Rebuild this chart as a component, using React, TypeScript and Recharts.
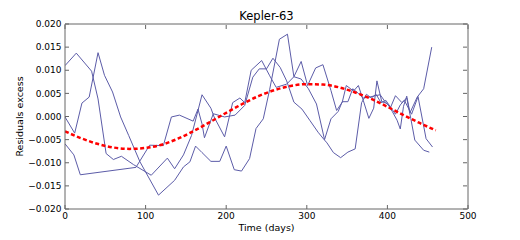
import { LineChart, Line, XAxis, YAxis } from 'recharts';

// three passes of residuals, plus the fitted trend
const timeA = [0, 14, 33, 41, 51, 60, 70, 85, 107, 127, 136, 147, 157, 165, 170, 181, 185, 198, 208, 217, 223, 231, 244, 254, 262, 275, 284, 293, 301, 311, 320, 330, 337, 344, 349, 358, 364, 370, 377, 383, 387, 393, 400, 406, 412, 416, 420, 424, 428, 437, 445, 455];
const residA = [0.011, 0.0137, 0.0098, 0.0038, -0.008, -0.0093, -0.0086, -0.0104, -0.0127, -0.009, -0.0113, -0.0083, -0.0041, 0.0013, 0.0047, 0.0018, -0.0001, -0.0044, 0.003, 0.004, 0.003, 0.01, 0.0121, 0.0088, 0.0063, 0.007, 0.0086, 0.0119, 0.0067, 0.0105, 0.0112, 0.0056, 0.0013, 0.0031, 0.0067, 0.0055, 0.0067, 0.0035, -0.0004, 0.0018, 0.0077, 0.0032, 0.0028, 0.0011, -0.0008, -0.0027, 0.0022, 0.0044, 0.0008, 0.0042, 0.006, 0.015];

const timeB = [0, 12, 21, 30, 41, 49, 59, 69, 79, 93, 116, 136, 147, 155, 162, 170, 181, 192, 200, 210, 219, 229, 237, 246, 254, 266, 276, 284, 293, 302, 312, 322, 330, 339, 344, 351, 357, 364, 370, 378, 385, 391, 398, 404, 410, 418, 424, 429, 434, 445, 452];
const residB = [-0.0001, -0.0036, 0.0029, 0.0042, 0.0138, 0.0089, 0.0053, -0.0001, -0.0041, -0.0098, -0.017, -0.0138, -0.0109, -0.0098, -0.0064, -0.0078, -0.0097, -0.0097, -0.0064, -0.0115, -0.0118, -0.0091, -0.0026, -0.0005, 0.0059, 0.0167, 0.0178, 0.0086, 0.0081, 0.006, 0.0027, -0.005, -0.0005, 0.0011, 0.0032, 0.0032, 0.006, 0.005, 0.004, 0.0042, 0.0045, 0.0047, 0.003, 0.002, 0.0045, 0.003, 0.004, -0.0004, -0.0051, -0.0073, -0.0077];

const timeC = [0, 11, 19, 88, 105, 122, 132, 142, 159, 165, 170, 173, 184, 198, 211, 223, 233, 241, 250, 258, 267, 275, 284, 294, 304, 314, 321, 325, 333, 342, 351, 360, 368, 374, 380, 386, 392, 398, 404, 410, 416, 421, 430, 438, 448, 456];
const residC = [-0.0059, -0.0083, -0.0126, -0.011, -0.0062, -0.0063, -0.0001, 0.0003, -0.001, 0.0016, -0.0016, -0.0046, 0.0006, -0.0001, 0.0003, 0.0024, 0.0085, 0.0103, 0.0103, 0.0126, 0.0106, 0.0077, 0.0031, 0.0016, -0.0009, -0.0034, -0.0049, -0.0057, -0.0078, -0.0089, -0.0077, -0.007, 0.003, 0.0048, 0.004, 0.0048, 0.003, 0.0035, 0.002, 0.0005, 0.0025, 0.0035, 0.0005, 0.0043, -0.0048, -0.0066];

const fitTime = [0, 20, 40, 60, 80, 100, 120, 140, 160, 180, 200, 220, 240, 260, 280, 300, 320, 340, 360, 380, 400, 420, 440, 460];
const fitResid = [-0.0032, -0.0047, -0.0059, -0.0067, -0.007, -0.0068, -0.0061, -0.0048, -0.0031, -0.0012, 0.0008, 0.0027, 0.0044, 0.0057, 0.0066, 0.007, 0.0069, 0.0063, 0.0052, 0.0038, 0.0021, 0.0003, -0.0014, -0.003];

const xTicks = [0, 100, 200, 300, 400, 500];
const yTicks = [-0.02, -0.015, -0.01, -0.005, 0, 0.005, 0.01, 0.015, 0.02];

const pairs = (t: number[], v: number[]) => t.map((x, i) => ({ t: x, v: v[i] }));
const passA = pairs(timeA, residA);
const passB = pairs(timeB, residB);
const passC = pairs(timeC, residC);
const fit = pairs(fitTime, fitResid);

const FONT = '"DejaVu Sans", sans-serif';
const FRAME = '#666';
const BLUE = '#5c5ca8';
const TICK = 4;

const fmtY = (v: number) => v.toFixed(3).replace('-', '\u2212');

const BottomTick = (p: any) => (
  <g>
    <line x1={p.x} x2={p.x} y1={p.y} y2={p.y - TICK} stroke={FRAME} />
    <text x={p.x} y={p.y + 9.5} textAnchor="middle" fontSize={9} fontFamily={FONT} fill="#000">
      {p.payload.value}
    </text>
  </g>
);
// the mirrored axes are 1px wide, so their ticks start 1px off the frame
const TopTick = (p: any) => <line x1={p.x} x2={p.x} y1={p.y + 1} y2={p.y + 1 + TICK} stroke={FRAME} />;
const LeftTick = (p: any) => (
  <g>
    <line x1={p.x} x2={p.x + TICK} y1={p.y} y2={p.y} stroke={FRAME} />
    <text x={p.x - 3.5} y={p.y + 3.2} textAnchor="end" fontSize={9} fontFamily={FONT} fill="#000">
      {fmtY(p.payload.value)}
    </text>
  </g>
);
const RightTick = (p: any) => <line x1={p.x - 1} x2={p.x - 1 - TICK} y1={p.y} y2={p.y} stroke={FRAME} />;

export default function App() {
  return (
    <div style={{ position: 'absolute', left: 0, top: 0, width: 520, height: 240, background: '#fff' }}>
      <LineChart width={520} height={240} margin={{ top: 23, right: 51, bottom: 11, left: 25 }}>
        <XAxis xAxisId="b" dataKey="t" type="number" domain={[0, 500]} ticks={xTicks} height={20}
          axisLine={{ stroke: FRAME }} tickLine={false} tickSize={0} tickMargin={0} tick={BottomTick} allowDataOverflow />
        <XAxis xAxisId="t" orientation="top" dataKey="t" type="number" domain={[0, 500]} ticks={xTicks} height={1}
          axisLine={{ stroke: FRAME }} tickLine={false} tickSize={0} tickMargin={0} tick={TopTick} allowDataOverflow />
        <YAxis yAxisId="l" type="number" domain={[-0.02, 0.02]} ticks={yTicks} width={40}
          axisLine={{ stroke: FRAME }} tickLine={false} tickSize={0} tickMargin={0} tick={LeftTick} allowDataOverflow />
        <YAxis yAxisId="r" orientation="right" type="number" domain={[-0.02, 0.02]} ticks={yTicks} width={1}
          axisLine={{ stroke: FRAME }} tickLine={false} tickSize={0} tickMargin={0} tick={RightTick} allowDataOverflow />
        {/* invisible copy of the trend, only so the mirrored top/right axes get drawn */}
        <Line xAxisId="t" yAxisId="r" data={fit} dataKey="v" stroke="none" strokeOpacity={0}
          dot={false} activeDot={false} isAnimationActive={false} />
        {[passA, passB, passC].map((d, i) => (
          <Line key={i} xAxisId="b" yAxisId="l" data={d} dataKey="v" type="linear" stroke={BLUE}
            strokeWidth={1} dot={false} isAnimationActive={false} />
        ))}
        <Line xAxisId="b" yAxisId="l" data={fit} dataKey="v" type="monotone" stroke="#ff0000"
          strokeWidth={2.5} strokeDasharray="4 2.5" dot={false} isAnimationActive={false} />
      </LineChart>
      <svg width={520} height={240} style={{ position: 'absolute', left: 0, top: 0, pointerEvents: 'none' }}>
        <text x={266.5} y={20} textAnchor="middle" fontSize={11.5} fontFamily={FONT}>Kepler-63</text>
        <text x={266.5} y={231} textAnchor="middle" fontSize={9.5} fontFamily={FONT}>Time (days)</text>
        <text transform="translate(23,116.5) rotate(-90)" textAnchor="middle" fontSize={9.5} fontFamily={FONT}>
          Residuals excess
        </text>
      </svg>
    </div>
  );
}
